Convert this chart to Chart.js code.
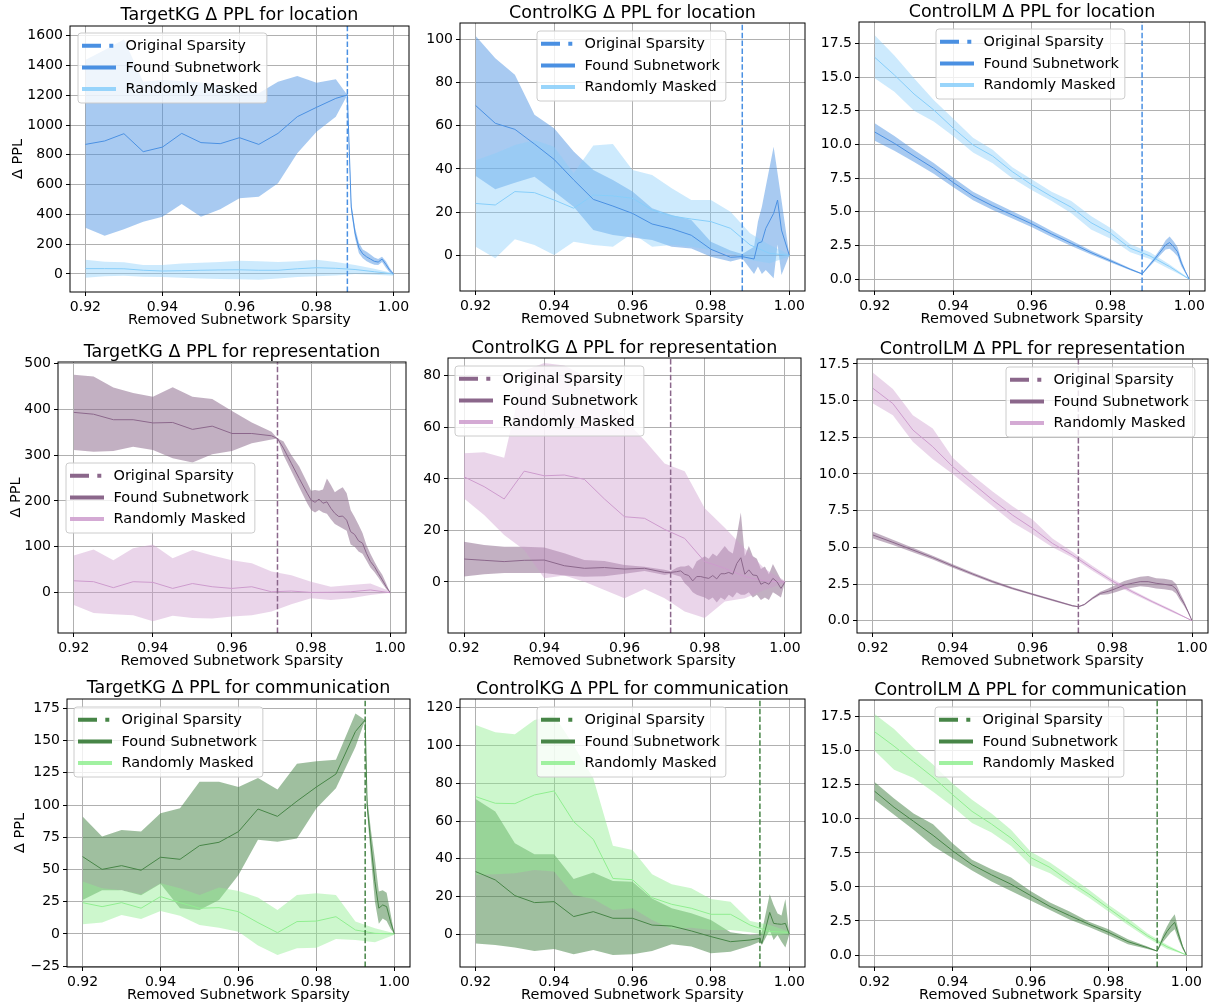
<!DOCTYPE html>
<html>
<head>
<meta charset="utf-8">
<title>Δ PPL vs removed subnetwork sparsity</title>
<script src="https://cdn.jsdelivr.net/npm/chart.js@4.4.0/dist/chart.umd.min.js"></script>
<style>
  html, body { margin: 0; padding: 0; background: #fff; }
  body { position: relative; width: 1217px; height: 1008px; overflow: hidden; }
  canvas { position: absolute; }
</style>
</head>
<body>
<script>
// ---- shared axes ----
const xTicks = [0.92, 0.94, 0.96, 0.98, 1.00];
const randX = [0.92, 0.925, 0.93, 0.935, 0.94, 0.945, 0.95, 0.955, 0.96, 0.965, 0.97, 0.975, 0.98, 0.985, 0.99, 0.995, 1.0];

// original sparsity of each relation
const origLoc = 0.988;
const origRep = 0.9715;
const origCom = 0.9925;

// ---- location ----
const tkLocX = [0.92, 0.925, 0.93, 0.935, 0.94, 0.945, 0.95, 0.955, 0.96, 0.965, 0.97, 0.975, 0.98, 0.985, 0.988, 0.989, 0.99, 0.991, 0.992, 0.993, 0.994, 0.995, 0.996, 0.997, 0.998, 0.999, 1.0];
const tkLocFound = [870, 893, 942, 821, 852, 944, 882, 875, 915, 870, 944, 1056, 1119, 1179, 1202, 450, 275, 175, 135, 115, 100, 85, 80, 100, 65, 25, 0];
const tkLocFoundHi = [1437, 1504, 1575, 1291, 1302, 1295, 1285, 1265, 1235, 1213, 1291, 1329, 1284, 1307, 1202, 480, 310, 210, 165, 150, 130, 110, 100, 115, 85, 40, 5];
const tkLocFoundLo = [311, 257, 300, 351, 385, 470, 385, 434, 508, 519, 609, 810, 955, 1056, 1202, 420, 240, 140, 105, 85, 72, 62, 60, 80, 42, 10, -5];
const tkLocRand = [36, 36, 35, 25, 20, 22, 25, 27, 28, 25, 25, 35, 42, 38, 30, 15, 0];
const tkLocRandHi = [95, 82, 78, 60, 60, 70, 75, 80, 88, 85, 80, 85, 95, 80, 60, 35, 5];
const tkLocRandLo = [-25, -15, -12, -18, -20, -25, -30, -33, -35, -38, -30, -20, -15, -10, 0, -5, -12];

const ckLocX = [0.92, 0.925, 0.93, 0.935, 0.94, 0.945, 0.95, 0.955, 0.96, 0.965, 0.97, 0.975, 0.98, 0.985, 0.988, 0.991, 0.992, 0.993, 0.994, 0.996, 0.997, 0.998, 1.0];
const ckLocFound = [69.3, 61.1, 58.3, 51.5, 44.4, 34.9, 25.9, 22.8, 19.4, 14.5, 12.3, 9.3, 2.8, -0.9, -0.6, -1.7, 5.6, 6.3, 12.5, 19.4, 25.6, 11.7, 0];
const ckLocFoundHi = [101.5, 91.2, 83.5, 65, 58.8, 48, 39.5, 34.9, 29.5, 21.8, 18.7, 16.4, 6.3, 2.2, 0.6, 4, 15.6, 22.5, 31.8, 50.3, 38, 25.6, 0];
const ckLocFoundLo = [36.7, 30.6, 33.6, 36.4, 29.5, 22.5, 11.7, 9.4, 8.3, 7.1, 4, 3.2, -0.6, -2.9, -1.5, -8.6, -5.2, -8.6, -6.8, -10.6, 5, -9.1, 0];
const ckLocRand = [24, 23.3, 29.5, 29, 25.6, 21.8, 27.9, 27.5, 26.4, 21, 18.2, 16.8, 15.6, 12.5, 4.8, 0.9, 0];
const ckLocRandHi = [44, 47.2, 51, 53.4, 50.3, 38, 50.8, 51.5, 39.5, 37.2, 31, 25.6, 25.6, 20.2, 10.2, 4.8, 0.5];
const ckLocRandLo = [4, -1.4, 7.4, 4.8, 0.2, 6.3, 4.8, 4, 10.2, 4, 4.8, 4, 2.5, 0.9, -2.2, -3.7, -0.5];

const clLocX = [0.92, 0.925, 0.93, 0.935, 0.94, 0.945, 0.95, 0.955, 0.96, 0.965, 0.97, 0.975, 0.98, 0.985, 0.988, 0.991, 0.993, 0.994, 0.995, 0.996, 0.997, 0.998, 0.999, 1.0];
const clLocFound = [10.92, 10.08, 9.14, 8.23, 7.17, 6.18, 5.44, 4.77, 4.1, 3.36, 2.67, 1.98, 1.36, 0.74, 0.4, 1.43, 2.17, 2.55, 2.72, 2.42, 2.05, 1.19, 0.57, 0];
const clLocFoundHi = [11.57, 10.63, 9.59, 8.63, 7.52, 6.5, 5.74, 5.04, 4.35, 3.58, 2.87, 2.13, 1.48, 0.82, 0.44, 1.58, 2.42, 2.9, 3.17, 2.82, 2.4, 1.44, 0.67, 0];
const clLocFoundLo = [10.27, 9.53, 8.69, 7.83, 6.82, 5.86, 5.14, 4.5, 3.85, 3.14, 2.47, 1.83, 1.24, 0.66, 0.36, 1.28, 1.92, 2.2, 2.27, 2.02, 1.7, 0.94, 0.47, 0];
const clLocRand = [16.46, 15.15, 13.74, 12.56, 11.2, 9.96, 9.14, 7.98, 6.99, 6.13, 5.34, 4.2, 3.41, 2.3, 1.73, 0.94, 0];
const clLocRandHi = [18.1, 16.6, 14.9, 13.3, 11.9, 10.5, 9.6, 8.3, 7.4, 6.5, 5.8, 4.7, 3.8, 2.6, 2.0, 1.1, 0.05];
const clLocRandLo = [14.9, 13.9, 12.5, 11.7, 10.6, 9.4, 8.6, 7.5, 6.6, 5.8, 4.9, 3.7, 3.0, 2.0, 1.5, 0.75, 0];

// ---- representation ----
const tkRepX = [0.92, 0.925, 0.93, 0.935, 0.94, 0.945, 0.95, 0.955, 0.96, 0.965, 0.97, 0.9715, 0.973, 0.975, 0.977, 0.979, 0.98, 0.981, 0.982, 0.983, 0.984, 0.985, 0.986, 0.987, 0.988, 0.989, 0.99, 0.991, 0.992, 0.993, 0.994, 0.995, 0.996, 0.997, 0.998, 0.999, 1.0];
const tkRepFound = [393, 389, 377, 377, 370, 371, 356, 363, 347, 347, 342, 336, 315, 282, 249, 217, 202, 197, 204, 195, 198, 184, 173, 166, 167, 158, 133, 127, 113, 108, 86, 68, 57, 42, 28, 13, 0];
const tkRepFoundHi = [475, 471, 447, 435, 427, 448, 427, 422, 396, 371, 351, 336, 330, 300, 275, 240, 222, 224, 222, 225, 249, 235, 219, 225, 230, 217, 180, 165, 148, 130, 104, 85, 68, 52, 39, 20, 0];
const tkRepFoundLo = [311, 307, 309, 318, 311, 293, 284, 302, 309, 326, 334, 336, 300, 265, 230, 195, 180, 175, 180, 175, 172, 160, 150, 145, 140, 135, 105, 100, 90, 85, 70, 55, 45, 33, 20, 8, 0];
const tkRepRand = [26, 24, 11, 24, 22.5, 9.4, 20, 13, 9.4, 13, 2, 3.6, 0.7, 1, 2, 6, 0];
const tkRepRandHi = [81, 94, 71, 97, 105, 75, 93, 81, 71, 64, 46, 38, 24, 13, 17, 20, 3];
const tkRepRandLo = [-27, -44, -47, -49, -62, -50, -55, -56, -52, -49, -41, -25, -12, -16, -12, -5, 0];

const ckRepX = [0.92, 0.925, 0.93, 0.935, 0.94, 0.945, 0.95, 0.955, 0.96, 0.965, 0.97, 0.9715, 0.973, 0.974, 0.975, 0.976, 0.977, 0.978, 0.979, 0.98, 0.981, 0.982, 0.983, 0.984, 0.985, 0.986, 0.987, 0.988, 0.989, 0.99, 0.991, 0.992, 0.993, 0.994, 0.995, 0.996, 0.997, 0.998, 0.999, 1.0];
const ckRepFound = [8.9, 8.4, 7.9, 8.4, 8.5, 6.3, 5.3, 5.6, 5.0, 5.3, 3.7, 3.7, 4.0, 4.3, 3.0, 2.5, 0.4, 2.1, 2.1, 1.7, 1.4, 2.5, 1.2, 3.2, 3.2, 3.7, 3.0, 7.2, 9.4, 3.0, 4.7, 2.7, 2.5, -0.9, -0.1, -0.9, 1.4, 0.1, -2.5, 0];
const ckRepFoundHi = [15.6, 14.3, 13.7, 13.7, 13.4, 11.1, 8.5, 8.1, 6.6, 5.9, 4.7, 4.2, 5.5, 6.0, 6.0, 6.5, 5.0, 8.0, 9.0, 10.0, 9.0, 11.0, 10.0, 12.0, 14.0, 12.0, 11.0, 18.0, 27.0, 10.0, 14.0, 10.0, 9.0, 5.0, 6.0, 3.0, 7.0, 4.0, 1.0, 0];
const ckRepFoundLo = [2.1, 3.0, 3.5, 3.5, 3.5, 2.5, 2.0, 2.2, 3.2, 4.3, 2.7, 3.2, 2.5, 2.0, -0.5, -2.0, -4.0, -5.0, -5.5, -6.0, -7.0, -6.0, -8.0, -6.0, -7.0, -5.0, -6.0, -4.0, -5.0, -5.0, -4.0, -6.0, -5.0, -7.0, -6.0, -7.0, -4.0, -5.0, -6.0, 0];
const ckRepRand = [40.8, 37, 32.2, 43, 41.2, 41.5, 39.8, 32.2, 25.3, 24.7, 20.4, 16.9, 7.9, 5.3, 2.1, 0.4, 0];
const ckRepRandHi = [49.9, 50.3, 48.2, 82, 85, 84, 80, 72, 63, 55, 46, 43, 28.6, 21, 13, 5, 0.5];
const ckRepRandLo = [32.4, 26, 18.2, 12.4, 1.4, 2.5, 0.1, -3.1, -6.3, -2.7, -6.3, -11.5, -14, -7.6, -6.3, -3, -0.5];

const clRepX = [0.92, 0.925, 0.93, 0.935, 0.94, 0.945, 0.95, 0.955, 0.96, 0.965, 0.97, 0.9715, 0.973, 0.975, 0.977, 0.979, 0.981, 0.983, 0.985, 0.987, 0.989, 0.991, 0.993, 0.995, 0.996, 0.997, 0.998, 0.999, 1.0];
const clRepFound = [5.84, 5.34, 4.82, 4.3, 3.73, 3.18, 2.66, 2.2, 1.8, 1.41, 1.02, 0.95, 1.1, 1.52, 1.86, 2.0, 2.2, 2.43, 2.55, 2.66, 2.66, 2.55, 2.48, 2.39, 2.16, 1.64, 1.18, 0.61, 0];
const clRepFoundHi = [6.07, 5.52, 4.97, 4.43, 3.85, 3.28, 2.75, 2.28, 1.87, 1.47, 1.07, 0.98, 1.15, 1.6, 1.97, 2.2, 2.45, 2.7, 2.85, 3.0, 3.05, 2.9, 2.85, 2.75, 2.5, 1.9, 1.35, 0.7, 0];
const clRepFoundLo = [5.6, 5.16, 4.67, 4.17, 3.61, 3.08, 2.57, 2.12, 1.73, 1.35, 0.97, 0.92, 1.05, 1.45, 1.75, 1.8, 1.95, 2.15, 2.25, 2.35, 2.3, 2.2, 2.15, 2.05, 1.85, 1.4, 1.0, 0.52, 0];
const clRepRand = [15.84, 14.8, 13, 11.86, 10.5, 9.36, 8.23, 7.2, 6.3, 5.27, 4.48, 3.57, 2.7, 1.98, 1.3, 0.66, 0];
const clRepRandHi = [16.9, 15.8, 14.0, 13.1, 11.1, 9.9, 8.8, 7.8, 6.9, 5.6, 4.7, 3.75, 2.85, 2.1, 1.4, 0.75, 0.02];
const clRepRandLo = [14.8, 14.0, 12.2, 11.0, 10.0, 8.9, 7.8, 6.7, 5.9, 5.0, 4.3, 3.4, 2.55, 1.85, 1.2, 0.58, 0];

// ---- communication ----
const tkComX = [0.92, 0.925, 0.93, 0.935, 0.94, 0.945, 0.95, 0.955, 0.96, 0.965, 0.97, 0.975, 0.98, 0.985, 0.99, 0.9925, 0.993, 0.994, 0.995, 0.996, 0.997, 0.998, 0.999, 1.0];
const tkComFound = [60, 50.1, 53, 49.4, 59.5, 57.9, 68.5, 71.1, 79.4, 96.9, 91.2, 103, 114, 124, 157, 166, 100, 69, 40.6, 20, 22.5, 21.2, 9.6, 0];
const tkComFoundHi = [91, 75.5, 80.6, 79.4, 93.6, 97.5, 118, 118, 114, 121, 112, 132, 134, 135, 171, 166, 106, 80, 58, 33, 34, 32, 16, 0];
const tkComFoundLo = [26.4, 34, 34, 30, 39, 20, 18.6, 26.4, 45.8, 73, 71.6, 74, 97.5, 113, 145, 166, 95, 58, 25, 8, 12, 10, 4, 0];
const tkComRand = [24.3, 21.2, 24.3, 20, 29, 24.3, 20, 20.4, 17.3, 8.8, 1, 9.6, 10, 13.4, 3.1, 0.5, 0];
const tkComRandHi = [40.6, 35.4, 34, 30.8, 39.3, 35.4, 30.2, 36, 33.3, 28.2, 18.6, 30.2, 31.5, 30.2, 9.6, 4.4, 0.5];
const tkComRandLo = [7.5, 9, 14.7, 11.6, 17.8, 14.2, 7, 4.9, 1.8, -9, -16.3, -11, -10.6, -3.9, -4.7, -6.5, -0.5];

const ckComX = [0.92, 0.925, 0.93, 0.935, 0.94, 0.945, 0.95, 0.955, 0.96, 0.965, 0.97, 0.975, 0.98, 0.985, 0.99, 0.9925, 0.993, 0.995, 0.996, 0.997, 0.998, 0.999, 1.0];
const ckComFound = [33.2, 28.8, 20.5, 16.8, 17.3, 9.4, 12, 8.5, 8.5, 4.9, 4.4, 1.8, -1.2, -3.9, -3, -2.1, -4.8, 11.6, 5.8, 5.5, 5.3, 5.8, 0];
const ckComFoundHi = [71.6, 65, 48.2, 42.4, 42.4, 29.3, 32.8, 28.2, 27.9, 19, 13.8, 11.1, 7.6, 1.1, -0.4, 0, 1.4, 21.2, 15.5, 11, 10, 18.7, 0];
const ckComFoundLo = [-4.8, -5.6, -7, -8.8, -7.8, -10.6, -8.3, -11, -10.6, -8.8, -5.3, -6.5, -10, -9.2, -6, -3.9, -5.6, 2.3, -3, -0.4, -3.9, -7, 0];
const ckComRand = [72.9, 69.4, 69.2, 73.8, 75.9, 59.6, 50.3, 29.6, 28.9, 19.4, 15.9, 13.8, 10.6, 10.6, 4.9, 1.5, 1];
const ckComRandHi = [110.8, 107, 105.9, 113.5, 116, 100, 82.6, 46.9, 44.6, 31.8, 26.5, 24.4, 18.7, 17.3, 7.1, 5, 1.5];
const ckComRandLo = [31.4, 31.8, 32.3, 34, 33.2, 20.8, 18.7, 12.9, 13.8, 7.6, 2.8, 3.5, 2.3, 2.3, 1.1, -0.7, 0];

const clComX = [0.92, 0.925, 0.93, 0.935, 0.94, 0.945, 0.95, 0.955, 0.96, 0.965, 0.97, 0.975, 0.98, 0.985, 0.99, 0.9925, 0.994, 0.995, 0.996, 0.997, 0.998, 0.999, 1.0];
const clComFound = [12.03, 10.85, 9.82, 8.79, 7.66, 6.63, 5.89, 5.2, 4.37, 3.56, 2.9, 2.26, 1.67, 0.98, 0.54, 0.29, 1.23, 1.72, 2.09, 2.4, 1.47, 0.61, 0];
const clComFoundHi = [12.7, 11.5, 10.4, 9.6, 8.2, 7.0, 6.3, 5.7, 4.7, 3.85, 3.2, 2.45, 1.9, 1.15, 0.62, 0.31, 1.5, 2.1, 2.6, 3.0, 1.8, 0.75, 0];
const clComFoundLo = [11.4, 10.3, 9.2, 8.0, 7.1, 6.2, 5.4, 4.7, 4.0, 3.3, 2.6, 2.05, 1.45, 0.8, 0.45, 0.26, 0.95, 1.3, 1.65, 1.9, 1.1, 0.45, 0];
const clComRand = [16.4, 15.34, 14.19, 13.06, 11.78, 10.55, 9.62, 8.59, 7.17, 6.43, 5.4, 4.47, 3.44, 2.41, 1.42, 0.61, 0];
const clComRandHi = [17.7, 16.6, 15.2, 14.0, 12.6, 11.4, 10.4, 9.2, 7.6, 6.8, 5.8, 4.8, 3.7, 2.7, 1.6, 0.75, 0.02];
const clComRandLo = [15.0, 13.6, 13.0, 12.0, 10.9, 9.7, 9.0, 8.0, 6.6, 6.0, 5.1, 4.2, 3.2, 2.2, 1.25, 0.45, 0];

// y tick values
const kgLocTicks = [0, 200, 400, 600, 800, 1000, 1200, 1400, 1600];
const ckLocTicks = [0, 20, 40, 60, 80, 100];
const lmTicks = [0, 2.5, 5, 7.5, 10, 12.5, 15, 17.5];
const tkRepTicks = [0, 100, 200, 300, 400, 500];
const ckRepTicks = [0, 20, 40, 60, 80];
const tkComTicks = [-25, 0, 25, 50, 75, 100, 125, 150, 175];
const ckComTicks = [0, 20, 40, 60, 80, 100, 120];

const FONT = 'DejaVu Sans';
const YW = 72, TH = 34, XH = 45, PR = 16;

const colors = {
  loc: { found: [74, 144, 226], rand: [135, 206, 250], fa: 0.48, ra: 0.42 },
  rep: { found: [139, 103, 139], rand: [205, 155, 205], fa: 0.52, ra: 0.42 },
  com: { found: [71, 133, 71], rand: [144, 238, 144], fa: 0.52, ra: 0.45 }
};
const rgba = (c, a) => `rgba(${c[0]},${c[1]},${c[2]},${a})`;

const panels = [
  { title: 'TargetKG Δ PPL for location', L: 70, R: 409, T: 26, B: 292, ymin: -121, ymax: 1665, yt: kgLocTicks, dec: 0, yTitleX: 18, gap: 11, lg: [78, 33], rel: 'loc', orig: origLoc,
    fx: tkLocX, f: tkLocFound, fh: tkLocFoundHi, fl: tkLocFoundLo, r: tkLocRand, rh: tkLocRandHi, rl: tkLocRandLo },
  { title: 'ControlKG Δ PPL for location', L: 460, R: 805, T: 23, B: 291, ymin: -16.5, ymax: 107.5, yt: ckLocTicks, dec: 0, gap: 10, lg: [537, 31], rel: 'loc', orig: origLoc,
    fx: ckLocX, f: ckLocFound, fh: ckLocFoundHi, fl: ckLocFoundLo, r: ckLocRand, rh: ckLocRandHi, rl: ckLocRandLo },
  { title: 'ControlLM Δ PPL for location', L: 859, R: 1205, T: 22, B: 291, ymin: -0.87, ymax: 19.08, yt: lmTicks, dec: 1, gap: 10, lg: [936, 29], rel: 'loc', orig: origLoc,
    fx: clLocX, f: clLocFound, fh: clLocFoundHi, fl: clLocFoundLo, r: clLocRand, rh: clLocRandHi, rl: clLocRandLo },
  { title: 'TargetKG Δ PPL for representation', L: 58, R: 406, T: 362, B: 633, ymin: -87.8, ymax: 502.8, yt: tkRepTicks, dec: 0, yTitleX: 16.7, gap: 10, lg: [66, 463], rel: 'rep', orig: origRep,
    fx: tkRepX, f: tkRepFound, fh: tkRepFoundHi, fl: tkRepFoundLo, r: tkRepRand, rh: tkRepRandHi, rl: tkRepRandLo },
  { title: 'ControlKG Δ PPL for representation', L: 448, R: 801, T: 358, B: 633, ymin: -19.8, ymax: 86.9, yt: ckRepTicks, dec: 0, gap: 10, lg: [455, 366], rel: 'rep', orig: origRep,
    fx: ckRepX, f: ckRepFound, fh: ckRepFoundHi, fl: ckRepFoundLo, r: ckRepRand, rh: ckRepRandHi, rl: ckRepRandLo },
  { title: 'ControlLM Δ PPL for representation', L: 857, R: 1208, T: 359, B: 633, ymin: -0.84, ymax: 17.84, yt: lmTicks, dec: 1, gap: 10, lg: [1006, 367], rel: 'rep', orig: origRep,
    fx: clRepX, f: clRepFound, fh: clRepFoundHi, fl: clRepFoundLo, r: clRepRand, rh: clRepRandHi, rl: clRepRandLo },
  { title: 'TargetKG Δ PPL for communication', L: 67, R: 410, T: 699, B: 967, ymin: -25.6, ymax: 182.2, yt: tkComTicks, dec: 0, yTitleX: 20, gap: 11, lg: [74, 707], rel: 'com', orig: origCom,
    fx: tkComX, f: tkComFound, fh: tkComFoundHi, fl: tkComFoundLo, r: tkComRand, rh: tkComRandHi, rl: tkComRandLo },
  { title: 'ControlKG Δ PPL for communication', L: 460, R: 805, T: 699, B: 967, ymin: -17.3, ymax: 124.6, yt: ckComTicks, dec: 0, gap: 10, lg: [537, 707], rel: 'com', orig: origCom,
    fx: ckComX, f: ckComFound, fh: ckComFoundHi, fl: ckComFoundLo, r: ckComRand, rh: ckComRandHi, rl: ckComRandLo },
  { title: 'ControlLM Δ PPL for communication', L: 859, R: 1202, T: 700, B: 967, ymin: -0.88, ymax: 18.73, yt: lmTicks, dec: 1, gap: 10, lg: [935, 707], rel: 'com', orig: origCom,
    fx: clComX, f: clComFound, fh: clComFoundHi, fl: clComFoundLo, r: clComRand, rh: clComRandHi, rl: clComRandLo }
];

const pts = (xs, ys) => xs.map((x, i) => ({ x: x, y: ys[i] }));

function drawLegend(ctx, x, y, c) {
  const rows = [
    { text: 'Original Sparsity', color: rgba(c.found, 1), dash: [19, 8.3], len: 31.3 },
    { text: 'Found Subnetwork', color: rgba(c.found, 1), dash: [], len: 34 },
    { text: 'Randomly Masked', color: rgba(c.rand, 0.85), dash: [], len: 34 }
  ];
  ctx.save();
  ctx.font = `14.5px "${FONT}"`;
  const tw = Math.max(...rows.map(r => ctx.measureText(r.text).width));
  const w = 47.5 + tw + 6, h = 70, rad = 3;
  ctx.beginPath();
  ctx.roundRect(x, y, w, h, rad);
  ctx.fillStyle = 'rgba(255,255,255,0.8)';
  ctx.fill();
  ctx.strokeStyle = '#cccccc';
  ctx.lineWidth = 1;
  ctx.stroke();
  rows.forEach((r, i) => {
    const cy = y + 12.7 + i * 21.7;
    ctx.beginPath();
    ctx.setLineDash(r.dash);
    ctx.strokeStyle = r.color;
    ctx.lineWidth = 4;
    ctx.lineCap = 'butt';
    ctx.moveTo(x + 4, cy);
    ctx.lineTo(x + 4 + r.len, cy);
    ctx.stroke();
    ctx.setLineDash([]);
    ctx.fillStyle = '#000';
    ctx.textBaseline = 'middle';
    ctx.textAlign = 'left';
    ctx.fillText(r.text, x + 47.5, cy + 0.5);
  });
  ctx.restore();
}

// dashed marker at the original sparsity, full frame, legend box
const decor = {
  id: 'decor',
  afterDatasetsDraw(chart, args, o) {
    const { ctx, chartArea: a } = chart;
    const px = chart.scales.x.getPixelForValue(o.orig);
    ctx.save();
    ctx.beginPath();
    ctx.rect(a.left, a.top, a.width, a.height);
    ctx.clip();
    ctx.beginPath();
    ctx.setLineDash([5.5, 2.4]);
    ctx.strokeStyle = o.color;
    ctx.lineWidth = 1.5;
    ctx.moveTo(px, a.bottom);
    ctx.lineTo(px, a.top);
    ctx.stroke();
    ctx.restore();

    ctx.save();
    ctx.strokeStyle = '#000';
    ctx.lineWidth = 1;
    ctx.strokeRect(a.left, a.top, a.width, a.height);
    ctx.restore();

    drawLegend(ctx, o.lx, o.ly, o.c);
  }
};

const tickFont = { family: FONT, size: 14, lineHeight: 1 };
const labelFont = { family: FONT, size: 14.5, lineHeight: 1.2 };

panels.forEach(p => {
  const c = colors[p.rel];
  const left = p.L - YW, top = p.T - TH;
  const w = YW + (p.R - p.L) + PR, h = TH + (p.B - p.T) + XH;
  const cv = document.createElement('canvas');
  cv.width = w; cv.height = h;
  cv.style.left = left + 'px';
  cv.style.top = top + 'px';
  cv.style.width = w + 'px';
  cv.style.height = h + 'px';
  document.body.appendChild(cv);

  const fmtY = v => p.dec ? v.toFixed(1) : (v < 0 ? '\u2212' + Math.abs(v) : String(v));

  new Chart(cv, {
    type: 'line',
    data: {
      datasets: [
        { data: pts(p.fx, p.f), borderColor: rgba(c.found, 1), borderWidth: 1, order: 1 },
        { data: pts(randX, p.r), borderColor: rgba(c.rand, 1), borderWidth: 1, order: 2 },
        { data: pts(randX, p.rh), borderWidth: 0, fill: '+1', backgroundColor: rgba(c.rand, c.ra), order: 5 },
        { data: pts(randX, p.rl), borderWidth: 0, fill: false, order: 5 },
        { data: pts(p.fx, p.fh), borderWidth: 0, fill: '+1', backgroundColor: rgba(c.found, c.fa), order: 6 },
        { data: pts(p.fx, p.fl), borderWidth: 0, fill: false, order: 6 }
      ]
    },
    options: {
      responsive: false,
      animation: false,
      devicePixelRatio: 1,
      layout: { padding: { left: 0, right: PR, top: 0, bottom: 0 } },
      elements: { point: { radius: 0 }, line: { tension: 0 } },
      plugins: {
        legend: { display: false },
        tooltip: { enabled: false },
        title: {
          display: true, text: p.title, fullSize: false, color: '#000',
          font: { family: FONT, size: 17.5, weight: 'normal', lineHeight: 1 },
          padding: { top: TH - p.gap - 8.75, bottom: p.gap - 8.75 }
        },
        decor: { orig: p.orig, color: rgba(c.found, 1), c: c, lx: p.lg[0] - left, ly: p.lg[1] - top }
      },
      scales: {
        x: {
          type: 'linear', min: 0.916, max: 1.004,
          afterBuildTicks: s => { s.ticks = xTicks.map(v => ({ value: v })); },
          afterFit: s => { s.height = XH; },
          ticks: { callback: v => v.toFixed(2), color: '#000', font: tickFont, padding: 4, maxRotation: 0, autoSkip: false },
          grid: { color: '#b0b0b0', lineWidth: 1, tickColor: '#000', tickLength: 4 },
          border: { display: false },
          title: { display: true, text: 'Removed Subnetwork Sparsity', color: '#000', font: labelFont, padding: { top: 0, bottom: 8 } }
        },
        y: {
          type: 'linear', min: p.ymin, max: p.ymax,
          afterBuildTicks: s => { s.ticks = p.yt.map(v => ({ value: v })); },
          afterFit: s => { s.width = YW; },
          ticks: { callback: fmtY, color: '#000', font: tickFont, padding: 3, autoSkip: false },
          grid: { color: '#b0b0b0', lineWidth: 1, tickColor: '#000', tickLength: 4 },
          border: { display: false },
          title: {
            display: p.yTitleX !== undefined, text: 'Δ PPL', color: '#000', font: labelFont,
            padding: { top: p.yTitleX !== undefined ? p.yTitleX - left - 8.7 : 0, bottom: 0 }
          }
        }
      }
    },
    plugins: [decor]
  });
});
</script>
</body>
</html>
